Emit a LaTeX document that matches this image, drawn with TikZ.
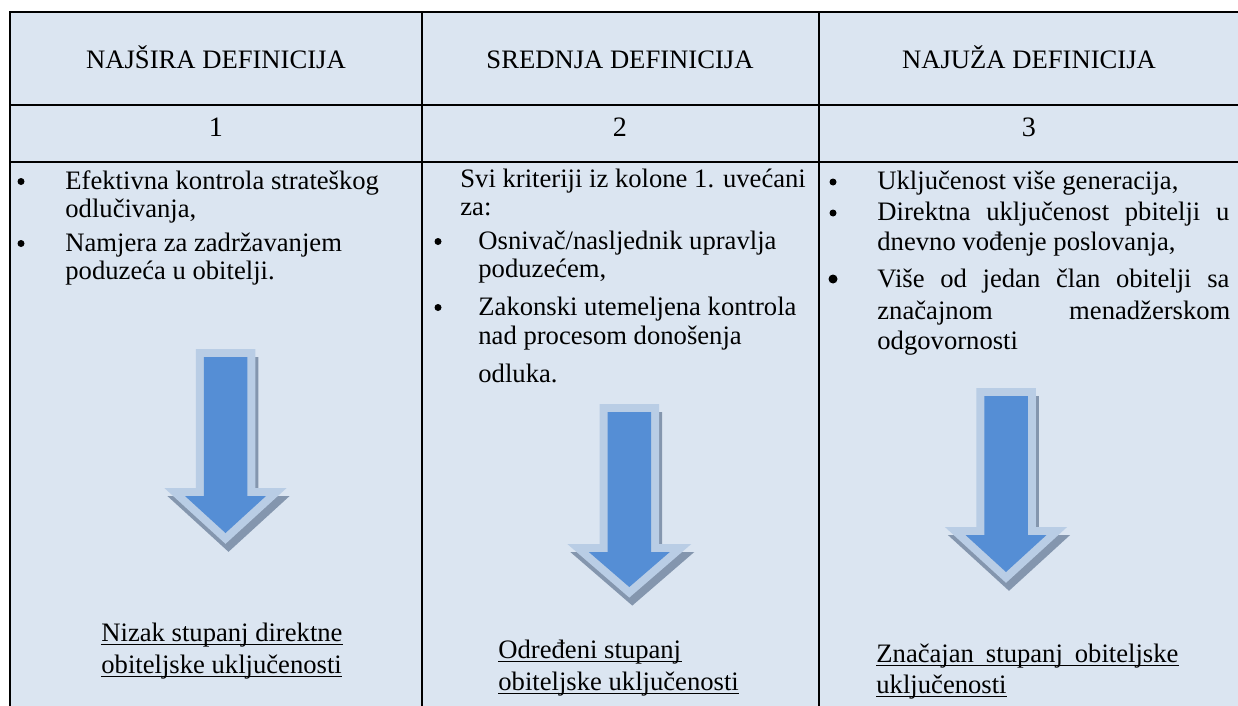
\documentclass[tikz,border=0pt]{standalone}
\usepackage{fontspec}
\setmainfont{Liberation Serif}
\newdimen\px \px=0.4806pt
\definecolor{bgblue}{HTML}{DBE5F1}
\definecolor{arrowblue}{HTML}{558ED5}
\definecolor{arrowlight}{HTML}{B9CDE5}
\definecolor{arrowshadow}{HTML}{8496AE}
\newcommand\dnarrow[4]{% cx, shaft top, head base, tip
  \path[fill=arrowshadow, draw=arrowshadow, line width=16\px, line join=miter, miter limit=10, shift={(3,8)}]
    (#1-21.75,#2) -- (#1+21.75,#2) -- (#1+21.75,#3) -- (#1+40.5,#3) -- (#1,#4) -- (#1-40.5,#3) -- (#1-21.75,#3) -- cycle;
  \path[fill=arrowlight, draw=arrowlight, line width=16\px, line join=miter, miter limit=10]
    (#1-21.75,#2) -- (#1+21.75,#2) -- (#1+21.75,#3) -- (#1+40.5,#3) -- (#1,#4) -- (#1-40.5,#3) -- (#1-21.75,#3) -- cycle;
  \fill[arrowblue]
    (#1-21.75,#2) -- (#1+21.75,#2) -- (#1+21.75,#3) -- (#1+40.5,#3) -- (#1,#4) -- (#1-40.5,#3) -- (#1-21.75,#3) -- cycle;
}
\begin{document}
\begin{tikzpicture}[x=0.4806pt,y=-0.4806pt,
  txt/.style={anchor=base west,inner sep=0pt,font=\fontsize{12.8}{14.7}\selectfont},
  hdr/.style={anchor=base,inner sep=0pt,font=\fontsize{12.8}{14.7}\selectfont},
  numtxt/.style={anchor=base,inner sep=0pt,font=\fontsize{13.5}{15.5}\selectfont},
  bul/.style={circle,fill=black,inner sep=0pt,minimum size=7\px},
  bigbul/.style={circle,fill=black,inner sep=0pt,minimum size=9\px},
  rule/.style={line width=2\px,black},
  uline/.style={line width=1.3\px,black}]
\useasboundingbox (0,0) rectangle (1238,706);
\fill[bgblue] (10,12) rectangle (1238,706);
% grid
\draw[rule] (10,12) -- (1238,12);
\draw[rule] (10,105) -- (1238,105);
\draw[rule] (10,162) -- (1238,162);
\draw[rule] (10,11) -- (10,706);
\draw[rule] (422,11) -- (422,706);
\draw[rule] (819,11) -- (819,706);
% headers
\node[hdr] (h1) at (216,68) {NAJŠIRA DEFINICIJA};
\node[hdr] (h2) at (620,68) {SREDNJA DEFINICIJA};
\node[hdr] (h3) at (1029,68) {NAJUŽA DEFINICIJA};
\node[numtxt] (n1) at (216,136) {1};
\node[numtxt] (n2) at (620,136) {2};
\node[numtxt] (n3) at (1029,136) {3};
% column 1
\node[bul] (b11) at (21,181.5) {};
\node[txt] (c1a) at (65,189) {Efektivna kontrola strateškog};
\node[txt] (c1b) at (65,217.5) {odlučivanja,};
\node[bul] (b12) at (21,243.5) {};
\node[txt] (c1c) at (65,251) {Namjera za zadržavanjem};
\node[txt] (c1d) at (65,279.5) {poduzeća u obitelji.};
% column 2
\node[txt] (c2a) at (460,187) {Svi kriteriji iz kolone 1. uvećani};
\node[txt] (c2b) at (460,215.5) {za:};
\node[bul] (b21) at (438,241.5) {};
\node[txt] (c2c) at (478,249) {Osnivač/nasljednik upravlja};
\node[txt] (c2d) at (478,277.5) {poduzećem,};
\node[bul] (b22) at (438,307.5) {};
\node[txt] (c2e) at (478,315) {Zakonski utemeljena kontrola};
\node[txt] (c2f) at (478,344) {nad procesom donošenja};
\node[txt] (c2g) at (478,382) {odluka.};
% column 3
\node[bul] (b31) at (833,182) {};
\node[txt] (c3a) at (877,189.5) {Uključenost više generacija,};
\node[bul] (b32) at (833,213) {};
\node[txt] (c3b) at (877,220.5) {\makebox[352\px][s]{Direktna uključenost pbitelji u}};
\node[txt] (c3c) at (877,250) {dnevno vođenje poslovanja,};
\node[bigbul] (b33) at (833,279) {};
\node[txt] (c3d) at (877,287) {\makebox[352\px][s]{Više od jedan član obitelji sa}};
\node[txt] (c3e) at (877,319) {\makebox[353\px][s]{značajnom menadžerskom}};
\node[txt] (c3f) at (877,349) {odgovornosti};
% arrows
\dnarrow{225.5}{357}{496}{533}
\dnarrow{629.3}{412}{552}{587}
\dnarrow{1006}{396}{535}{572}
% bottom labels
\node[txt] (l1a) at (101,641) {Nizak stupanj direktne};
\node[txt] (l1b) at (101,673) {obiteljske uključenosti};
\node[txt] (l2a) at (498,658) {Određeni stupanj};
\node[txt] (l2b) at (498,690) {obiteljske uključenosti};
\node[txt] (l3a) at (876,662) {\makebox[302\px][s]{Značajan stupanj obiteljske}};
\node[txt] (l3b) at (876,693) {uključenosti};
\foreach \n in {l1a,l1b,l2a,l2b,l3a,l3b}{
  \draw[uline] ([yshift=-3.5\px]\n.base west) -- ([yshift=-3.5\px]\n.base east);
}
\end{tikzpicture}
\end{document}
